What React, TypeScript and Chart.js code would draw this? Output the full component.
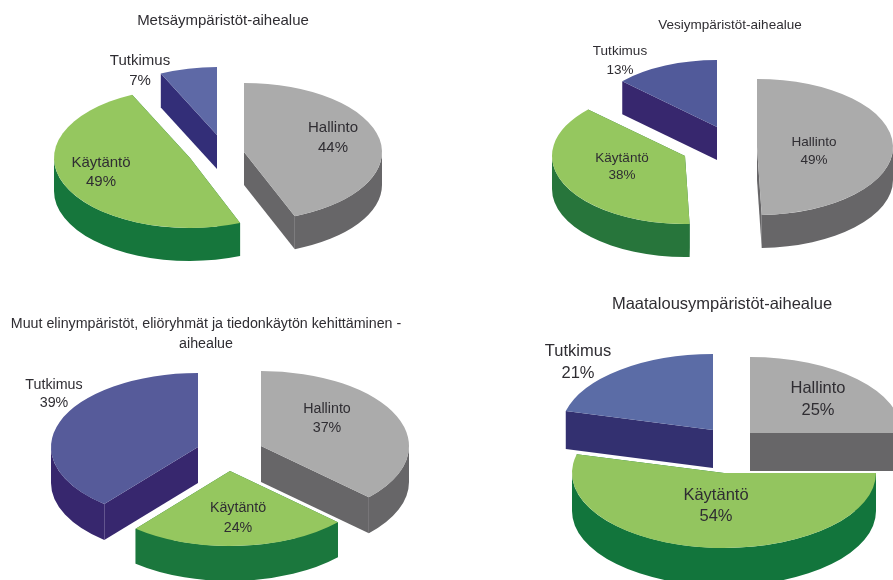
import React, { useEffect, useRef } from "react";
import { Chart, registerables } from "chart.js";

Chart.register(...registerables);

const FONT = '"Liberation Sans", Arial, sans-serif';
const TEXT = "#2f2d32";
const BASE_RADIUS = 100;
const TEXT_SHIFT = 1.5;

const categories = ["Hallinto", "Käytäntö", "Tutkimus"];

const metsaValues = [44, 49, 7];
const vesiValues = [49.45, 37.55, 13];
const muutValues = [37, 24, 39];
const maatalousValues = [25, 54, 21];

const metsaTitle = ["Metsäympäristöt-aihealue"];
const vesiTitle = ["Vesiympäristöt-aihealue"];
const muutTitle = ["Muut elinympäristöt, eliöryhmät ja tiedonkäytön kehittäminen -", "aihealue"];
const maatalousTitle = ["Maatalousympäristöt-aihealue"];

type Panel = {
  values: number[];
  title: string[];
  fontSize: number;
  box: { left: number; top: number; width: number; height: number };
  titleY: number;
  centre: number[][];
  rx: number[];
  ry: number[];
  depth: number[];
  top: string[];
  side: string[];
  labelAt: number[][];
};

const panels: Panel[] = [
  {
    values: metsaValues,
    title: metsaTitle,
    fontSize: 15,
    box: { left: 0, top: 0, width: 446, height: 290 },
    titleY: 19,
    centre: [[244, 152], [190, 158], [217, 135]],
    rx: [138, 136, 132],
    ry: [69, 70, 68],
    depth: [33, 33, 34],
    top: ["#ababab", "#95c75f", "#5e69a6"],
    side: ["#676668", "#16763c", "#332e78"],
    labelAt: [[333, 126, 146], [101, 161, 180], [140, 59, 79]],
  },
  {
    values: vesiValues,
    title: vesiTitle,
    fontSize: 13.5,
    box: { left: 540, top: 0, width: 380, height: 290 },
    titleY: 24,
    centre: [[757, 147], [685, 156], [717, 127]],
    rx: [136, 133, 130],
    ry: [68, 68, 67],
    depth: [33, 33, 33],
    top: ["#ababab", "#95c75f", "#515a9a"],
    side: ["#676668", "#27753b", "#37276e"],
    labelAt: [[814, 141, 159], [622, 157, 174], [620, 50, 69]],
  },
  {
    values: muutValues,
    title: muutTitle,
    fontSize: 14.25,
    box: { left: 0, top: 290, width: 412, height: 290 },
    titleY: 323,
    centre: [[261, 446], [230, 471], [198, 447]],
    rx: [148, 148, 147],
    ry: [75, 75, 74],
    depth: [36, 35, 36],
    top: ["#ababab", "#95c75f", "#565b9a"],
    side: ["#676668", "#1b773d", "#37276e"],
    labelAt: [[327, 408, 427], [238, 507, 527], [54, 384, 402]],
  },
  {
    values: maatalousValues,
    title: maatalousTitle,
    fontSize: 16.5,
    box: { left: 540, top: 290, width: 364, height: 290 },
    titleY: 303,
    centre: [[750, 433], [724, 473], [713, 430]],
    rx: [152, 152, 152],
    ry: [76, 75, 76],
    depth: [38, 38, 38],
    top: ["#ababab", "#93c55f", "#5b6ca6"],
    side: ["#676668", "#12753c", "#333070"],
    labelAt: [[818, 387, 409], [716, 494, 515], [578, 350, 372]],
  },
];

const TAU = Math.PI * 2;

// Portions of [start, end] that fall in the front half of the rim (sin(angle) > 0).
function frontRanges(start: number, end: number): number[][] {
  const out: number[][] = [];
  const k0 = Math.floor(start / TAU) - 1;
  for (let k = k0; k * TAU < end; k++) {
    const a = Math.max(start, k * TAU);
    const b = Math.min(end, k * TAU + Math.PI);
    if (b > a) out.push([a, b]);
  }
  return out;
}

function drawSide(ctx: any, x: number, y: number, rx: number, ry: number, d: number, start: number, end: number) {
  const quad = (angle: number) => {
    const ex = x + Math.cos(angle) * rx;
    const ey = y + Math.sin(angle) * ry;
    ctx.beginPath();
    ctx.moveTo(x, y);
    ctx.lineTo(ex, ey);
    ctx.lineTo(ex, ey + d);
    ctx.lineTo(x, y + d);
    ctx.closePath();
    ctx.fill();
  };
  quad(start);
  quad(end);
  for (const [a, b] of frontRanges(start, end)) {
    ctx.beginPath();
    ctx.ellipse(x, y, rx, ry, 0, a, b, false);
    ctx.ellipse(x, y + d, rx, ry, 0, b, a, true);
    ctx.closePath();
    ctx.fill();
  }
}

function makeExplodedPlugin(p: Panel) {
  return {
    id: "exploded3d",
    beforeDatasetDraw(chart: any, args: any) {
      const ctx = chart.ctx;
      const arcs = args.meta.data;
      const order = arcs.map((_: any, i: number) => i).sort((a: number, b: number) => p.centre[a][1] - p.centre[b][1]);
      for (const i of order) {
        const el = arcs[i];
        const px = p.centre[i][0] - p.box.left;
        const py = p.centre[i][1] - p.box.top;
        ctx.fillStyle = p.side[i];
        drawSide(ctx, px, py, p.rx[i], p.ry[i], p.depth[i], el.startAngle, el.endAngle);
        ctx.save();
        ctx.translate(px, py);
        ctx.scale(p.rx[i] / el.outerRadius, p.ry[i] / el.outerRadius);
        ctx.translate(-el.x, -el.y);
        el.draw(ctx);
        ctx.restore();
      }
      return false;
    },
    afterDraw(chart: any) {
      const ctx = chart.ctx;
      ctx.save();
      ctx.font = `${p.fontSize}px ${FONT}`;
      ctx.fillStyle = TEXT;
      ctx.textAlign = "center";
      ctx.textBaseline = "middle";
      categories.forEach((name, i) => {
        const [x, y1, y2] = p.labelAt[i];
        ctx.fillText(name, x - p.box.left, y1 - p.box.top + TEXT_SHIFT);
        ctx.fillText(`${Math.round(p.values[i] - 0.01)}%`, x - p.box.left, y2 - p.box.top + TEXT_SHIFT);
      });
      ctx.restore();
    },
  };
}

function Pie3D({ panel }: { panel: Panel }) {
  const ref = useRef<HTMLCanvasElement | null>(null);
  useEffect(() => {
    if (!ref.current) return;
    const lineHeight = panel.fontSize * 1.36;
    const chart = new Chart(ref.current, {
      type: "pie",
      data: {
        labels: categories,
        datasets: [
          {
            data: panel.values,
            backgroundColor: panel.top,
            borderWidth: 0,
            clip: false,
          } as any,
        ],
      },
      options: {
        responsive: false,
        animation: false,
        radius: BASE_RADIUS,
        layout: { padding: 0 },
        plugins: {
          legend: { display: false },
          tooltip: { enabled: false },
          title: {
            display: true,
            text: panel.title,
            color: TEXT,
            font: { family: FONT, size: panel.fontSize, weight: "normal", lineHeight: 1.36 },
            padding: { top: panel.titleY - panel.box.top - lineHeight / 2 + TEXT_SHIFT, bottom: 0 },
          },
        },
      } as any,
      plugins: [makeExplodedPlugin(panel)],
    });
    return () => chart.destroy();
  }, [panel]);
  const { left, top, width, height } = panel.box;
  return (
    <canvas
      ref={ref}
      width={width}
      height={height}
      style={{ position: "absolute", left, top, width, height, display: "block" }}
    />
  );
}

export default function App() {
  return (
    <div
      style={{
        position: "fixed",
        left: 0,
        top: 0,
        width: 893,
        height: 580,
        overflow: "hidden",
        background: "#ffffff",
      }}
    >
      {panels.map((panel) => (
        <Pie3D key={panel.title[0]} panel={panel} />
      ))}
    </div>
  );
}
